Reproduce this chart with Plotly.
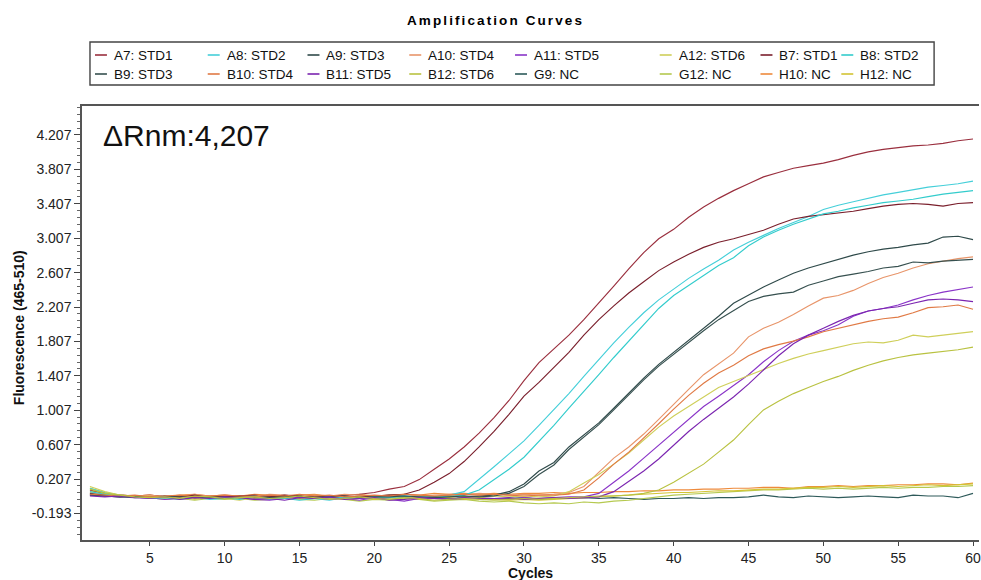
import plotly.graph_objects as go

# ---------------------------------------------------------------- data
cycles = list(range(1, 61))

a7_std1 = [0.08, 0.04, 0.02, 0.01, 0.02, 0.00, -0.01, 0.01, 0.00, -0.01,
           0.01, 0.02, 0.00, -0.01, 0.01, 0.00, 0.01, 0.02, 0.03, 0.05,
           0.09, 0.12, 0.20, 0.32, 0.44, 0.58, 0.74, 0.92, 1.12, 1.35,
           1.56, 1.72, 1.88, 2.06, 2.25, 2.45, 2.65, 2.84, 3.00, 3.11,
           3.25, 3.37, 3.47, 3.56, 3.64, 3.72, 3.77, 3.82, 3.85, 3.88,
           3.92, 3.97, 4.01, 4.04, 4.06, 4.08, 4.09, 4.11, 4.14, 4.16]
a8_std2 = [0.10, 0.05, 0.02, 0.00, 0.01, -0.02, -0.01, 0.00, -0.03, -0.02,
           0.00, -0.01, -0.03, -0.02, 0.00, -0.02, -0.04, -0.01, 0.00, -0.02,
           -0.01, 0.00, 0.01, 0.00, 0.02, 0.06, 0.20, 0.35, 0.50, 0.65,
           0.83, 1.01, 1.20, 1.40, 1.60, 1.79, 1.97, 2.14, 2.29, 2.42,
           2.54, 2.65, 2.75, 2.87, 2.96, 3.04, 3.12, 3.19, 3.26, 3.34,
           3.39, 3.43, 3.47, 3.51, 3.54, 3.57, 3.60, 3.62, 3.64, 3.67]
a9_std3 = [0.04, 0.02, 0.01, 0.00, 0.01, 0.00, -0.02, 0.01, 0.00, 0.01,
           -0.01, 0.00, 0.02, 0.00, -0.01, 0.01, 0.00, -0.01, 0.01, 0.00,
           0.02, 0.01, -0.01, 0.00, 0.01, 0.00, 0.01, 0.02, 0.06, 0.15,
           0.30, 0.40, 0.58, 0.72, 0.86, 1.03, 1.21, 1.38, 1.54, 1.68,
           1.81, 1.95, 2.10, 2.25, 2.35, 2.44, 2.52, 2.60, 2.66, 2.71,
           2.76, 2.81, 2.85, 2.88, 2.90, 2.93, 2.95, 3.02, 3.03, 2.99]
a10_std4 = [0.05, 0.03, 0.02, 0.01, 0.02, 0.00, 0.01, 0.03, 0.01, 0.02,
            0.00, 0.01, 0.03, 0.02, 0.00, 0.02, 0.01, 0.03, 0.02, 0.01,
            0.02, 0.03, 0.01, 0.02, 0.03, 0.02, 0.04, 0.03, 0.02, 0.03,
            0.02, 0.03, 0.05, 0.12, 0.28, 0.45, 0.58, 0.73, 0.90, 1.08,
            1.25, 1.42, 1.55, 1.67, 1.86, 1.96, 2.03, 2.12, 2.22, 2.31,
            2.34, 2.40, 2.48, 2.55, 2.60, 2.66, 2.71, 2.74, 2.77, 2.79]
a11_std5 = [0.02, 0.01, 0.00, 0.01, -0.01, -0.03, -0.02, 0.00, -0.01, -0.02,
            0.00, -0.03, -0.04, -0.02, 0.00, -0.01, -0.03, -0.02, -0.04, -0.01,
            -0.03, -0.05, -0.02, -0.01, -0.03, -0.02, -0.01, -0.02, -0.03, -0.01,
            -0.02, -0.01, 0.00, 0.00, 0.04, 0.17, 0.30, 0.45, 0.60, 0.76,
            0.91, 1.05, 1.17, 1.29, 1.42, 1.57, 1.70, 1.81, 1.88, 1.93,
            2.00, 2.10, 2.16, 2.19, 2.23, 2.29, 2.34, 2.38, 2.41, 2.44]
a12_std6 = [0.12, 0.06, 0.02, 0.00, 0.01, -0.02, 0.00, -0.03, -0.01, -0.02,
            -0.04, -0.01, -0.02, 0.00, -0.03, -0.02, -0.01, -0.03, -0.02, 0.00,
            -0.01, -0.02, 0.00, -0.01, 0.01, 0.00, -0.01, 0.01, 0.00, 0.01,
            0.00, 0.01, 0.06, 0.16, 0.26, 0.38, 0.51, 0.66, 0.81, 0.94,
            1.05, 1.16, 1.27, 1.34, 1.41, 1.48, 1.55, 1.61, 1.66, 1.70,
            1.74, 1.78, 1.80, 1.79, 1.82, 1.88, 1.86, 1.88, 1.90, 1.92]
b7_std1 = [0.03, 0.02, 0.01, 0.00, -0.01, 0.01, 0.00, 0.02, -0.01, 0.00,
           0.01, -0.01, 0.00, 0.02, 0.01, -0.01, 0.00, 0.01, 0.00, 0.01,
           0.02, 0.03, 0.08, 0.17, 0.27, 0.41, 0.58, 0.76, 0.96, 1.17,
           1.33, 1.50, 1.68, 1.88, 2.06, 2.22, 2.37, 2.50, 2.63, 2.73,
           2.82, 2.90, 2.96, 3.00, 3.05, 3.10, 3.17, 3.23, 3.26, 3.28,
           3.30, 3.32, 3.35, 3.38, 3.40, 3.41, 3.40, 3.38, 3.41, 3.42]
b8_std2 = [0.06, 0.03, 0.01, 0.00, -0.02, -0.01, -0.03, 0.00, -0.02, -0.01,
           -0.03, 0.00, -0.01, -0.02, -0.04, -0.02, 0.00, -0.01, -0.02, 0.00,
           -0.01, 0.01, 0.00, -0.01, 0.01, 0.02, 0.08, 0.20, 0.32, 0.46,
           0.64, 0.83, 1.03, 1.22, 1.42, 1.62, 1.81, 2.00, 2.19, 2.34,
           2.46, 2.58, 2.69, 2.78, 2.92, 3.02, 3.10, 3.17, 3.23, 3.29,
           3.32, 3.36, 3.39, 3.42, 3.44, 3.46, 3.49, 3.52, 3.54, 3.56]
b9_std3 = [0.02, 0.01, 0.00, 0.01, -0.01, 0.00, 0.01, -0.01, 0.00, -0.02,
           0.00, 0.01, -0.01, 0.00, 0.01, -0.02, 0.00, 0.01, -0.01, 0.00,
           0.00, 0.01, 0.00, -0.01, 0.00, 0.01, 0.00, 0.01, 0.04, 0.12,
           0.26, 0.37, 0.55, 0.69, 0.84, 1.01, 1.19, 1.36, 1.52, 1.66,
           1.79, 1.93, 2.06, 2.17, 2.27, 2.33, 2.36, 2.38, 2.46, 2.51,
           2.56, 2.59, 2.62, 2.66, 2.68, 2.73, 2.72, 2.74, 2.75, 2.76]
b10_std4 = [0.03, 0.02, 0.01, 0.02, 0.00, 0.01, 0.02, 0.00, 0.01, 0.02,
            0.01, 0.00, 0.02, 0.01, 0.03, 0.01, 0.02, 0.00, 0.01, 0.02,
            0.01, 0.03, 0.02, 0.01, 0.02, 0.03, 0.02, 0.03, 0.02, 0.01,
            0.02, 0.02, 0.03, 0.08, 0.22, 0.38, 0.52, 0.68, 0.85, 1.02,
            1.18, 1.32, 1.44, 1.53, 1.64, 1.72, 1.77, 1.81, 1.86, 1.92,
            1.96, 2.00, 2.04, 2.07, 2.09, 2.14, 2.20, 2.21, 2.23, 2.18]
b11_std5 = [0.01, 0.00, 0.01, -0.01, -0.02, 0.00, -0.03, -0.01, -0.02, 0.00,
            -0.01, -0.03, -0.02, -0.04, -0.01, -0.02, 0.00, -0.03, -0.02, -0.01,
            -0.04, -0.03, -0.01, -0.02, -0.03, -0.01, -0.02, -0.02, -0.01, -0.03,
            -0.02, -0.01, -0.02, -0.01, 0.00, 0.06, 0.18, 0.30, 0.44, 0.60,
            0.76, 0.90, 1.03, 1.16, 1.31, 1.48, 1.64, 1.78, 1.88, 1.96,
            2.04, 2.11, 2.16, 2.19, 2.21, 2.25, 2.29, 2.30, 2.29, 2.27]
b12_std6 = [0.09, 0.04, 0.02, 0.00, -0.01, 0.00, -0.02, 0.01, 0.00, -0.02,
            -0.01, 0.00, -0.02, -0.01, 0.01, -0.01, -0.03, -0.02, 0.00, -0.02,
            -0.03, -0.01, -0.02, -0.04, -0.03, -0.02, -0.03, -0.04, -0.03, -0.02,
            -0.03, -0.02, -0.01, 0.00, 0.01, 0.01, 0.02, 0.04, 0.08, 0.17,
            0.27, 0.38, 0.52, 0.66, 0.84, 1.01, 1.11, 1.20, 1.27, 1.34,
            1.40, 1.47, 1.53, 1.58, 1.62, 1.65, 1.67, 1.69, 1.71, 1.74]
g9_nc = [0.03, 0.01, 0.00, -0.01, 0.00, 0.01, -0.01, 0.00, -0.02, 0.00,
         0.01, -0.01, 0.00, -0.02, -0.01, 0.00, -0.02, 0.00, -0.01, -0.02,
         0.00, -0.01, -0.02, -0.01, -0.02, -0.01, -0.02, -0.03, -0.02, -0.01,
         -0.03, -0.02, -0.02, -0.01, -0.02, -0.01, -0.02, -0.03, -0.02, -0.02,
         -0.01, -0.02, -0.01, -0.01, 0.00, 0.02, 0.00, -0.01, 0.01, 0.00,
         -0.01, 0.00, 0.01, 0.00, -0.01, 0.02, 0.01, 0.01, -0.01, 0.04]
g12_nc = [0.10, 0.05, 0.02, 0.00, -0.01, -0.03, -0.02, -0.04, -0.02, -0.03,
          -0.02, -0.04, -0.03, -0.01, -0.03, -0.04, -0.02, -0.03, -0.05, -0.03,
          -0.04, -0.02, -0.03, -0.05, -0.04, -0.03, -0.05, -0.06, -0.05, -0.07,
          -0.08, -0.07, -0.08, -0.06, -0.07, -0.05, -0.04, -0.02, 0.00, 0.02,
          0.03, 0.04, 0.05, 0.06, 0.07, 0.08, 0.08, 0.09, 0.10, 0.09,
          0.10, 0.09, 0.10, 0.11, 0.10, 0.11, 0.11, 0.12, 0.12, 0.13]
h10_nc = [0.04, 0.03, 0.02, 0.01, 0.02, 0.00, 0.02, 0.03, 0.01, 0.02,
          0.01, 0.03, 0.02, 0.00, 0.02, 0.03, 0.01, 0.02, 0.03, 0.01,
          0.02, 0.03, 0.02, 0.04, 0.03, 0.04, 0.03, 0.04, 0.03, 0.04,
          0.04, 0.05, 0.04, 0.05, 0.05, 0.06, 0.06, 0.07, 0.07, 0.08,
          0.08, 0.09, 0.09, 0.10, 0.10, 0.11, 0.11, 0.10, 0.12, 0.12,
          0.13, 0.12, 0.13, 0.13, 0.14, 0.14, 0.15, 0.15, 0.14, 0.16]
h12_nc = [0.07, 0.04, 0.02, 0.01, 0.00, -0.01, 0.01, -0.02, 0.00, -0.01,
          0.00, -0.02, -0.01, 0.01, -0.02, -0.01, 0.00, -0.02, -0.01, -0.03,
          -0.01, -0.02, -0.03, -0.02, -0.01, -0.03, -0.02, -0.03, -0.04, -0.03,
          -0.04, -0.03, -0.02, -0.01, 0.00, 0.01, 0.02, 0.03, 0.04, 0.05,
          0.05, 0.06, 0.07, 0.07, 0.08, 0.09, 0.09, 0.10, 0.11, 0.11,
          0.12, 0.11, 0.12, 0.13, 0.12, 0.13, 0.14, 0.13, 0.14, 0.15]

# legend order: two rows of eight
sample_names = ["A7: STD1", "A8: STD2", "A9: STD3", "A10: STD4",
                "A11: STD5", "A12: STD6", "B7: STD1", "B8: STD2",
                "B9: STD3", "B10: STD4", "B11: STD5", "B12: STD6",
                "G9: NC", "G12: NC", "H10: NC", "H12: NC"]
sample_values = [a7_std1, a8_std2, a9_std3, a10_std4, a11_std5, a12_std6,
                 b7_std1, b8_std2, b9_std3, b10_std4, b11_std5, b12_std6,
                 g9_nc, g12_nc, h10_nc, h12_nc]

y_tick_values = [-0.193, 0.207, 0.607, 1.007, 1.407, 1.807,
                 2.207, 2.607, 3.007, 3.407, 3.807, 4.207]
x_tick_values = [5, 10, 15, 20, 25, 30, 35, 40, 45, 50, 55, 60]
delta_rnm_label = "\u0394Rnm:4,207"

# ---------------------------------------------------------------- style
sample_colors = ["#9a2f3e", "#45cfd9", "#2f4a4a", "#e8956a",
                 "#8a35c8", "#cfcf5a", "#7a1f2c", "#33cccc",
                 "#36504f", "#e07a45", "#7b25b0", "#b9c241",
                 "#2e5a5a", "#b5c94f", "#ee8a3c", "#d3c434"]

FONT = "Liberation Sans, Arial, Helvetica, sans-serif"
W, H = 981, 580
ML, MR, MT, MB = 82, 0, 106, 40
PW, PH = W - ML - MR, H - MT - MB


def fx(px):
    """pixel column -> paper x"""
    return (px - ML) / PW


def fy(py):
    """pixel row -> paper y"""
    return (H - MB - py) / PH


fig = go.Figure()

# draw NC wells first so the standards sit on top
draw_order = list(range(12, 16)) + list(range(0, 12))
for i in draw_order:
    fig.add_trace(go.Scatter(
        x=cycles, y=sample_values[i], mode="lines", name=sample_names[i],
        line=dict(color=sample_colors[i], width=1.15),
        showlegend=False, hoverinfo="x+y+name"))

# ---------------------------------------------------------------- legend
shapes = []
annotations = []
col_x = [95, 208, 308, 410, 516, 661, 762, 843]
row_y = [55, 74]
for k, name in enumerate(sample_names):
    r, c = divmod(k, 8)
    x0 = col_x[c]
    y0 = row_y[r]
    shapes.append(dict(type="line", xref="paper", yref="paper",
                       x0=fx(x0), x1=fx(x0 + 12), y0=fy(y0), y1=fy(y0),
                       line=dict(color=sample_colors[k], width=1.6)))
    annotations.append(dict(text=name, xref="paper", yref="paper",
                            x=fx(x0 + 17), y=fy(y0), xanchor="left",
                            yanchor="middle", showarrow=False,
                            font=dict(family=FONT, size=13.5, color="#111")))
shapes.append(dict(type="rect", xref="paper", yref="paper",
                   x0=fx(90), x1=fx(936), y0=fy(42), y1=fy(85),
                   line=dict(color="#444", width=1.4), fillcolor="rgba(0,0,0,0)"))

# chart title
annotations.append(dict(
    text="<b><span style='letter-spacing:2.1px'>Amplification Curves</span></b>",
    xref="paper", yref="paper", x=fx(496), y=fy(20), xanchor="center",
    yanchor="middle", showarrow=False,
    font=dict(family=FONT, size=13.5, color="#000")))

# delta Rn annotation inside the plot
annotations.append(dict(text=delta_rnm_label, xref="paper", yref="paper",
                        x=fx(101), y=fy(135), xanchor="left", yanchor="middle",
                        showarrow=False,
                        font=dict(family=FONT, size=30, color="#111")))

# axis titles
annotations.append(dict(text="<b>Cycles</b>", xref="paper", yref="paper",
                        x=fx(532), y=fy(573), xanchor="center",
                        yanchor="middle", showarrow=False,
                        font=dict(family=FONT, size=14, color="#111")))
annotations.append(dict(text="<b>Fluorescence (465-510)</b>", xref="paper",
                        yref="paper", x=fx(19), y=fy(328), xanchor="center",
                        yanchor="middle", textangle=-90, showarrow=False,
                        font=dict(family=FONT, size=14, color="#111")))

fig.update_layout(
    width=W, height=H,
    margin=dict(l=ML, r=MR, t=MT, b=MB, pad=0),
    paper_bgcolor="white", plot_bgcolor="white",
    showlegend=False,
    shapes=shapes, annotations=annotations,
    font=dict(family=FONT, size=14, color="#222"),
)

fig.update_xaxes(
    range=[0.47, 60.4], tickmode="array", tickvals=x_tick_values,
    ticktext=[str(v) for v in x_tick_values],
    ticks="outside", ticklen=4, tickwidth=1, tickcolor="#444",
    ticklabeloverflow="allow",
    showline=True, linecolor="#555", linewidth=1.5, mirror=True,
    showgrid=False, zeroline=False,
    tickfont=dict(family=FONT, size=14, color="#222"),
)
fig.update_yaxes(
    range=[-0.502, 4.544], tickmode="array", tickvals=y_tick_values,
    ticktext=[f"{v:.3f}" for v in y_tick_values],
    ticks="outside", ticklen=6, tickwidth=1, tickcolor="#444",
    minor=dict(ticks="outside", ticklen=3, dtick=0.08, tick0=0.207,
               tickcolor="#666", tickwidth=1),
    showline=True, linecolor="#555", linewidth=1.5,
    showgrid=False, zeroline=False,
    tickfont=dict(family=FONT, size=14, color="#222"),
)

fig.write_html("out.html")
